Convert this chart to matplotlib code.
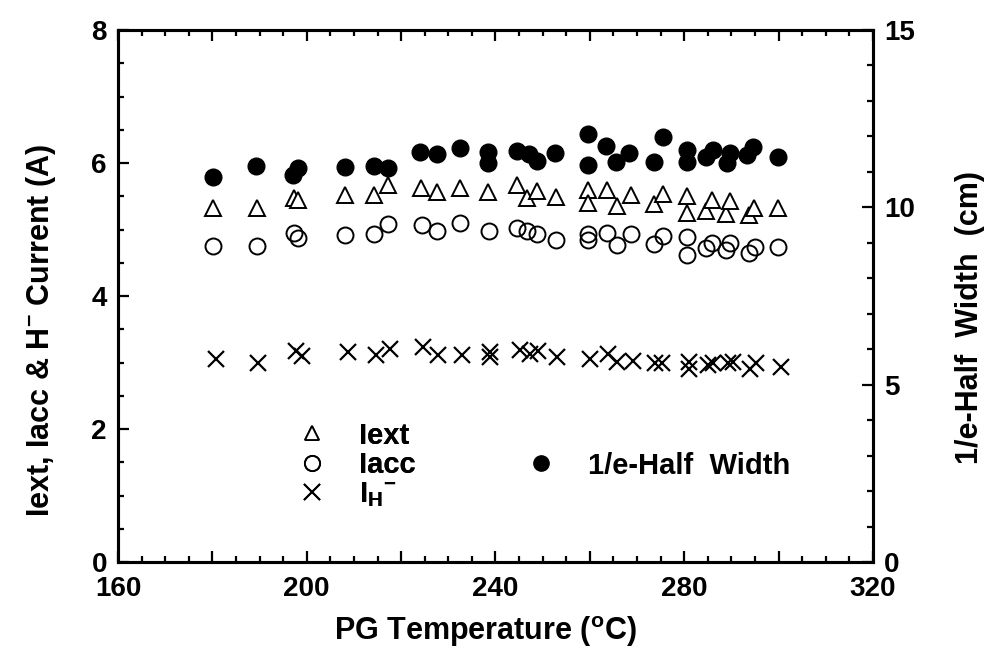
import matplotlib
matplotlib.use("Agg")
import matplotlib.pyplot as plt
from matplotlib.ticker import MultipleLocator, FuncFormatter
from matplotlib.lines import Line2D

plt.rcParams['font.family'] = ['Liberation Sans', 'DejaVu Sans']
plt.rcParams['font.weight'] = 'bold'
plt.rcParams['mathtext.fontset'] = 'custom'
plt.rcParams['mathtext.rm'] = 'Liberation Sans:bold'
plt.rcParams['mathtext.it'] = 'Liberation Sans:bold'
plt.rcParams['mathtext.bf'] = 'Liberation Sans:bold'

# Iext (A)
t_ext = [180.2, 189.4, 197.3, 198.2, 208.2, 214.2, 217.3, 224.3, 227.5, 232.5, 238.5,
         244.5, 246.6, 248.7, 252.8, 259.5, 259.7, 263.6, 265.7, 268.7, 273.6, 275.6,
         280.6, 280.6, 284.7, 285.8, 288.8, 289.7, 293.8, 294.8, 299.9]
i_ext = [5.33, 5.32, 5.48, 5.45, 5.52, 5.52, 5.67, 5.62, 5.57, 5.62, 5.57,
         5.67, 5.48, 5.58, 5.49, 5.60, 5.40, 5.60, 5.36, 5.52, 5.39, 5.53,
         5.50, 5.25, 5.28, 5.45, 5.24, 5.43, 5.22, 5.33, 5.33]

# Iacc (A)
t_acc = [180.2, 189.4, 197.3, 198.2, 208.2, 214.2, 217.3, 224.5, 227.5, 232.5, 238.6,
         244.5, 246.7, 248.7, 252.8, 259.5, 259.7, 263.7, 265.7, 268.7, 273.6, 275.6,
         280.6, 280.6, 284.7, 285.8, 288.8, 289.7, 293.8, 295.0, 299.9]
i_acc = [4.75, 4.75, 4.94, 4.87, 4.92, 4.93, 5.08, 5.07, 4.97, 5.10, 4.98,
         5.02, 4.97, 4.93, 4.84, 4.93, 4.84, 4.95, 4.77, 4.93, 4.78, 4.90,
         4.88, 4.62, 4.72, 4.80, 4.69, 4.79, 4.65, 4.74, 4.73]

# H- current (A)
t_h = [180.8, 189.7, 197.7, 198.9, 208.7, 214.7, 217.6, 224.7, 227.9, 233.0, 238.8, 238.8,
       245.2, 247.3, 249.1, 253.1, 260.0, 263.9, 265.7, 269.1, 273.8, 275.2,
       281.1, 281.1, 285.1, 286.1, 289.2, 290.4, 293.9, 295.3, 300.4]
i_h = [3.06, 3.00, 3.18, 3.10, 3.16, 3.11, 3.21, 3.23, 3.11, 3.11, 3.16, 3.09,
       3.19, 3.13, 3.18, 3.09, 3.06, 3.13, 3.01, 3.03, 3.00, 3.00,
       3.01, 2.90, 2.96, 2.99, 2.99, 3.01, 2.90, 2.99, 2.93]

# 1/e-half width (cm)
t_w = [180.2, 189.2, 198.2, 197.1, 208.1, 214.2, 217.3, 224.1, 227.5, 232.5, 238.5, 238.5,
       244.5, 247.0, 248.7, 252.6, 259.5, 259.7, 263.4, 265.5, 268.3, 273.6, 275.4,
       280.5, 280.5, 284.6, 286.0, 289.0, 289.7, 293.2, 294.6, 299.8]
w = [10.85, 11.17, 11.10, 10.91, 11.14, 11.16, 11.12, 11.57, 11.49, 11.68, 11.57, 11.26,
     11.60, 11.49, 11.31, 11.52, 12.07, 11.19, 11.74, 11.28, 11.52, 11.29, 11.99,
     11.63, 11.29, 11.41, 11.63, 11.24, 11.52, 11.47, 11.71, 11.43]

fig = plt.figure(figsize=(9.89, 6.60), dpi=100)
ax = fig.add_axes([118/989, 98/660, (873-118)/989, (562-30)/660])
ax2 = ax.twinx()

ax.plot(t_ext, i_ext, linestyle='none', marker='^', markersize=12, markerfacecolor='white',
        markeredgecolor='black', markeredgewidth=1.4, zorder=3)
ax.plot(t_acc, i_acc, linestyle='none', marker='o', markersize=11.5, markerfacecolor='none',
        markeredgecolor='black', markeredgewidth=1.4, zorder=3)
ax.plot(t_h, i_h, linestyle='none', marker='x', markersize=12, color='black',
        markeredgewidth=1.6, zorder=3)
ax2.plot(t_w, w, linestyle='none', marker='o', markersize=12, color='black', zorder=3)

ax.set_xlim(160, 320)
ax.set_ylim(0, 8)
ax2.set_ylim(0, 15)

ax.xaxis.set_major_locator(MultipleLocator(20))
ax.xaxis.set_minor_locator(MultipleLocator(5))
ax.xaxis.set_major_formatter(FuncFormatter(lambda v, p: f'{int(round(v))}' if int(round(v)) % 40 == 0 else ''))
ax.yaxis.set_major_locator(MultipleLocator(2))
ax.yaxis.set_minor_locator(MultipleLocator(0.5))
ax2.yaxis.set_major_locator(MultipleLocator(5))
ax2.yaxis.set_minor_locator(MultipleLocator(1))

for a in (ax, ax2):
    for s in a.spines.values():
        s.set_linewidth(2.2)

ax.tick_params(axis='both', which='major', direction='in', length=8, width=1.6,
               labelsize=20, top=True, right=False)
ax.tick_params(axis='x', which='major', pad=10)
ax.tick_params(axis='y', which='major', pad=8)
ax.tick_params(axis='both', which='minor', direction='in', length=4.5, width=1.6,
               top=True, right=False)
ax2.tick_params(axis='y', which='major', direction='in', length=8, width=1.6,
                labelsize=20, pad=8)
ax2.tick_params(axis='y', which='minor', direction='in', length=4.5, width=1.6)
for lab in ax.get_xticklabels() + ax.get_yticklabels() + ax2.get_yticklabels():
    lab.set_fontweight('bold')

ax.set_xlabel(r'PG Temperature ($^{\rm o}$C)', fontsize=22, fontweight='bold')
ax.set_ylabel(r'Iext, Iacc & H$^{-}$ Current (A)', fontsize=22, fontweight='bold')
ax2.set_ylabel('1/e-Half  Width  (cm)', fontsize=22, fontweight='bold')
ax.xaxis.set_label_coords(0.486, -0.098)
ax.yaxis.set_label_coords(-0.079, 0.436)
ax2.yaxis.set_label_coords(1.109, 0.459)

h1 = Line2D([], [], linestyle='none', marker='^', markersize=10, markerfacecolor='white',
            markeredgecolor='black', markeredgewidth=1.3)
h2 = Line2D([], [], linestyle='none', marker='o', markersize=11, markerfacecolor='none',
            markeredgecolor='black', markeredgewidth=1.3)
h3 = Line2D([], [], linestyle='none', marker='x', markersize=11, color='black',
            markeredgewidth=1.4)
h4 = Line2D([], [], linestyle='none', marker='o', markersize=11, color='black')

leg1 = ax.legend([h1, h2, h3], ['Iext', 'Iacc', r'I$_{H}$$^{-}$'], loc='upper left',
                 bbox_to_anchor=(280/989, 1 - 407/660), bbox_transform=fig.transFigure,
                 frameon=False, prop={'size': 21, 'weight': 'bold'},
                 handlelength=1.2, handletextpad=1.0, labelspacing=0.04, borderpad=0)
ax.add_artist(leg1)
leg2 = ax2.legend([h4], ['1/e-Half  Width'], loc='upper left',
                  bbox_to_anchor=(509/989, 1 - 437/660), bbox_transform=fig.transFigure,
                  frameon=False, prop={'size': 21, 'weight': 'bold'},
                  handlelength=1.2, handletextpad=1.0, borderpad=0)

fig.savefig('out.png', dpi=100)
